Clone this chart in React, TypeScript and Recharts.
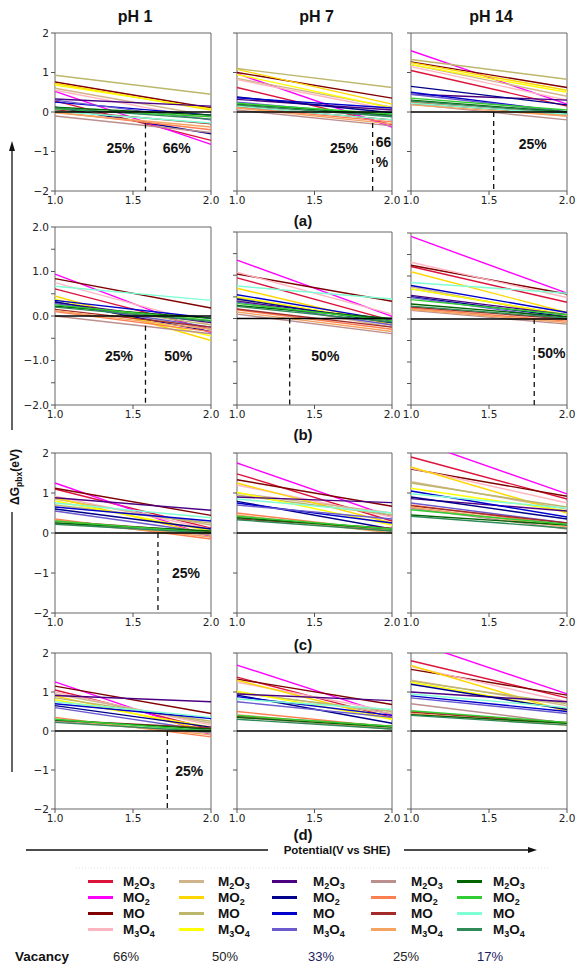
import React from "react";
import {
  LineChart,
  Line,
  XAxis,
  YAxis,
  ReferenceLine,
  ReferenceArea,
  ReferenceDot,
} from "recharts";

const FONT = '"Liberation Sans", Arial, sans-serif';
const TICK_FONT = '"DejaVu Sans", sans-serif';

const X_VALUES = [1.0, 2.0];
const X_TICKS = [1.0, 1.5, 2.0];
const Y_TICKS = [-2, -1, 0, 1, 2];
const Y_TICKS_FINE = [-2, -1.5, -1, -0.5, 0, 0.5, 1, 1.5, 2];
const PH_LABELS = ["pH 1", "pH 7", "pH 14"];
const ROW_LABELS = ["(a)", "(b)", "(c)", "(d)"];
const VACANCIES = ["66%", "50%", "33%", "25%", "17%"];
const OXIDES = ["M2O3", "MO2", "MO", "M3O4"];

// one row per vacancy, one colour per oxide (M2O3, MO2, MO, M3O4)
const COLORS = [
  ["#dc143c", "#ff00ff", "#800000", "#ffb6c1"],
  ["#d2b48c", "#ffd700", "#bdb76b", "#ffff00"],
  ["#4b0082", "#00008b", "#0000cd", "#6a5acd"],
  ["#bc8f8f", "#ff7f50", "#a52a2a", "#f4a460"],
  ["#006400", "#32cd32", "#7fffd4", "#2e8b57"],
];

// ΔG at 1.0 V and 2.0 V, same order as the legend (vacancy, then oxide)
const a_pH1 = [
  [0.28, -0.72], [0.52, -0.82], [0.76, 0.1], [0.55, -0.2],
  [0.6, -0.1], [0.72, 0.05], [0.93, 0.45], [0.68, 0.08],
  [0.33, 0.15], [0.12, -0.55], [0.25, -0.08], [0.3, -0.2],
  [-0.1, -0.52], [0.0, -0.45], [0.05, -0.3], [-0.02, -0.38],
  [0.12, -0.08], [0.08, -0.12], [0.02, -0.28], [0.1, -0.18],
];
const a_pH7 = [
  [0.62, -0.32], [0.97, -0.38], [1.0, 0.35], [0.82, 0.05],
  [0.85, 0.12], [1.08, 0.2], [1.1, 0.62], [0.95, 0.1],
  [0.32, 0.05], [0.38, -0.02], [0.36, 0.1], [0.25, -0.1],
  [0.05, -0.35], [0.12, -0.25], [0.15, -0.2], [0.1, -0.3],
  [0.2, -0.08], [0.22, -0.05], [0.15, -0.2], [0.18, -0.12],
];
const a_pH14 = [
  [1.05, 0.15], [1.55, 0.2], [1.27, 0.62], [1.15, 0.3],
  [1.2, 0.4], [1.25, 0.55], [1.33, 0.83], [1.2, 0.5],
  [0.45, 0.3], [0.65, 0.18], [0.5, 0.0], [0.45, 0.0],
  [0.2, -0.2], [0.25, -0.1], [0.22, -0.05], [0.18, -0.1],
  [0.3, 0.0], [0.35, 0.05], [0.22, -0.05], [0.28, -0.02],
];
const b_pH1 = [
  [0.61, -0.3], [0.94, -0.38], [0.84, 0.18], [0.75, -0.2],
  [0.32, -0.3], [0.45, -0.55], [0.3, -0.2], [0.38, -0.45],
  [0.3, -0.15], [0.32, -0.35], [0.35, -0.05], [0.28, -0.25],
  [0.0, -0.4], [0.1, -0.35], [0.15, -0.25], [0.12, -0.3],
  [0.22, -0.05], [0.25, -0.1], [0.67, 0.35], [0.2, -0.12],
];
const b_pH7 = [
  [0.94, -0.05], [1.35, 0.05], [1.03, 0.4], [1.07, 0.1],
  [0.42, -0.2], [0.7, -0.15], [0.48, -0.1], [0.5, -0.1],
  [0.4, -0.05], [0.45, -0.1], [0.55, -0.05], [0.38, -0.15],
  [0.1, -0.35], [0.2, -0.25], [0.22, -0.2], [0.15, -0.3],
  [0.3, 0.0], [0.35, -0.05], [0.75, 0.45], [0.28, -0.08],
];
const b_pH14 = [
  [1.22, 0.39], [1.92, 0.6], [1.25, 0.58], [1.32, 0.5],
  [0.75, 0.05], [1.1, 0.15], [0.7, 0.1], [0.7, 0.1],
  [0.55, 0.1], [0.52, 0.05], [0.78, 0.15], [0.5, 0.0],
  [0.2, -0.12], [0.25, -0.05], [0.28, 0.0], [0.22, -0.08],
  [0.35, 0.05], [0.45, 0.1], [0.85, 0.6], [0.3, 0.02],
];
const c_pH1 = [
  [1.1, 0.12], [1.25, -0.1], [1.12, 0.44], [0.92, 0.1],
  [0.85, 0.2], [0.88, -0.05], [0.7, 0.25], [0.8, 0.05],
  [0.88, 0.57], [0.6, 0.1], [0.65, 0.3], [0.55, 0.0],
  [0.25, -0.05], [0.35, -0.15], [0.3, 0.02], [0.32, -0.1],
  [0.25, 0.05], [0.3, 0.0], [0.75, 0.38], [0.22, 0.0],
];
const c_pH7 = [
  [1.48, 0.3], [1.75, 0.4], [1.33, 0.67], [1.2, 0.4],
  [1.0, 0.5], [1.25, 0.25], [0.95, 0.45], [1.02, 0.2],
  [0.9, 0.76], [0.79, 0.1], [0.75, 0.25], [0.7, 0.35],
  [0.4, 0.05], [0.5, 0.05], [0.35, 0.12], [0.45, 0.0],
  [0.38, 0.1], [0.42, 0.1], [0.85, 0.5], [0.33, 0.05],
];
const c_pH14 = [
  [1.9, 0.85], [2.34, 0.98], [1.6, 0.92], [1.62, 0.75],
  [1.28, 0.6], [1.65, 0.5], [1.25, 0.65], [1.12, 0.55],
  [0.86, 0.55], [0.9, 0.35], [1.05, 0.4], [0.75, 0.25],
  [0.62, 0.1], [0.7, 0.2], [0.68, 0.25], [0.65, 0.15],
  [0.45, 0.2], [0.58, 0.22], [0.98, 0.62], [0.42, 0.12],
];
const d_pH1 = [
  [1.05, 0.05], [1.26, -0.1], [1.15, 0.45], [1.0, 0.15],
  [0.95, 0.2], [0.9, 0.0], [0.85, 0.25], [0.8, 0.1],
  [0.91, 0.75], [0.65, 0.1], [0.7, 0.32], [0.6, 0.0],
  [0.25, -0.05], [0.35, -0.15], [0.28, 0.08], [0.3, -0.1],
  [0.28, 0.05], [0.3, 0.0], [0.75, 0.35], [0.22, -0.02],
];
const d_pH7 = [
  [1.38, 0.35], [1.69, 0.4], [1.33, 0.68], [1.25, 0.5],
  [1.0, 0.45], [1.3, 0.3], [0.98, 0.5], [1.02, 0.3],
  [0.95, 0.78], [0.92, 0.2], [0.88, 0.4], [0.75, 0.35],
  [0.35, 0.05], [0.5, 0.1], [0.38, 0.12], [0.42, 0.05],
  [0.35, 0.1], [0.4, 0.12], [0.82, 0.55], [0.3, 0.05],
];
const d_pH14 = [
  [1.8, 0.85], [2.3, 0.95], [1.58, 0.92], [1.65, 0.75],
  [1.3, 0.65], [1.68, 0.5], [1.28, 0.7], [1.25, 0.55],
  [1.0, 0.75], [1.2, 0.55], [0.9, 0.5], [0.85, 0.45],
  [0.7, 0.2], [0.5, 0.2], [0.48, 0.22], [0.45, 0.15],
  [0.42, 0.2], [0.52, 0.22], [0.95, 0.6], [0.4, 0.15],
];

// dashed boundary (x, top y) and the vacancy labels beside it
const a_marks = [
  { x: 1.58, yTop: -0.29, texts: [{ t: "25%", x: 1.42, y: -0.9 }, { t: "66%", x: 1.78, y: -0.9 }] },
  { x: 1.875, yTop: -0.28, texts: [{ t: "25%", x: 1.69, y: -0.9 }, { t: "66", x: 1.945, y: -0.76 }, { t: "%", x: 1.935, y: -1.26 }] },
  { x: 1.53, yTop: 0, texts: [{ t: "25%", x: 1.78, y: -0.81 }] },
];
const b_marks = [
  { x: 1.58, yTop: -0.22, texts: [{ t: "25%", x: 1.41, y: -0.9 }, { t: "50%", x: 1.79, y: -0.9 }] },
  { x: 1.34, yTop: 0, texts: [{ t: "50%", x: 1.57, y: -0.86 }] },
  { x: 1.79, yTop: 0, texts: [{ t: "50%", x: 1.9, y: -0.78 }] },
];
const c_marks = [{ x: 1.66, yTop: 0, texts: [{ t: "25%", x: 1.84, y: -1.0 }] }, null, null];
const d_marks = [{ x: 1.72, yTop: 0, texts: [{ t: "25%", x: 1.86, y: -1.03 }] }, null, null];

const ROWS = [
  { data: [a_pH1, a_pH7, a_pH14], marks: a_marks, tops: [33, 33, 33], bottom: 191, fine: false, labelY: 220 },
  { data: [b_pH1, b_pH7, b_pH14], marks: b_marks, tops: [227, 232, 233], bottom: 405, fine: true, labelY: 434 },
  { data: [c_pH1, c_pH7, c_pH14], marks: c_marks, tops: [453, 453, 453], bottom: 613, fine: false, labelY: 644 },
  { data: [d_pH1, d_pH7, d_pH14], marks: d_marks, tops: [653, 653, 653], bottom: 809, fine: false, labelY: 834 },
];
const COLS = [
  [55, 211],
  [237, 392],
  [411, 567],
];

const YW = 40;
const MT = 8;
const MR = 14;
const XH = 22;

const minus = (s: string) => s.replace("-", "\u2212");

function Panel({ box, values, marks, fine, labelled }: any) {
  const [L, T, R, B] = box;
  const data = X_VALUES.map((x, i) => {
    const row: Record<string, number> = { x };
    values.forEach((v: number[], k: number) => (row[`s${k}`] = v[i]));
    return row;
  });
  const yFmt = (v: number) => {
    if (!labelled || !Number.isInteger(v)) return "";
    return minus(fine ? v.toFixed(1) : String(v));
  };
  const tickStyle = { fontSize: 10.5, fill: "#222", fontFamily: TICK_FONT };
  return (
    <div style={{ position: "absolute", left: L - YW, top: T - MT }}>
      <LineChart
        width={R - L + YW + MR}
        height={B - T + MT + XH}
        data={data}
        margin={{ top: MT, right: MR, left: 0, bottom: 0 }}
      >
        <XAxis
          type="number"
          dataKey="x"
          domain={[1, 2]}
          ticks={X_TICKS}
          interval={0}
          tickFormatter={(v: number) => v.toFixed(1)}
          height={XH}
          tickSize={4}
          tick={tickStyle}
          axisLine={false}
          tickLine={{ stroke: "#555" }}
        />
        <YAxis
          type="number"
          domain={[-2, 2]}
          ticks={fine ? Y_TICKS_FINE : Y_TICKS}
          interval={0}
          allowDataOverflow
          width={YW}
          tickSize={4}
          tick={tickStyle}
          tickFormatter={yFmt}
          axisLine={false}
          tickLine={{ stroke: "#555" }}
        />
        {values.map((_: number[], k: number) => (
          <Line
            key={k}
            type="linear"
            dataKey={`s${k}`}
            stroke={COLORS[Math.floor(k / 4)][k % 4]}
            strokeWidth={1.4}
            dot={false}
            isAnimationActive={false}
          />
        ))}
        <ReferenceLine y={0} stroke="#000" strokeWidth={1.7} />
        <ReferenceArea x1={1} x2={2} y1={-2} y2={2} fill="none" fillOpacity={0} stroke="#666" strokeWidth={1} />
        {marks && (
          <ReferenceLine
            segment={[
              { x: marks.x, y: marks.yTop },
              { x: marks.x, y: -2 },
            ]}
            stroke="#111"
            strokeWidth={1.3}
            strokeDasharray="5 4"
          />
        )}
        {marks &&
          marks.texts.map((t: any, i: number) => (
            <ReferenceDot
              key={i}
              x={t.x}
              y={t.y}
              r={1}
              fill="none"
              stroke="none"
              label={{
                value: t.t,
                position: "center",
                fill: "#111",
                fontSize: 14,
                fontWeight: 700,
                fontFamily: FONT,
              }}
            />
          ))}
      </LineChart>
    </div>
  );
}

function Formula({ text }: { text: string }) {
  return (
    <>
      {text.split("").map((ch, i) =>
        /\d/.test(ch) ? (
          <span key={i} style={{ fontSize: 9, position: "relative", top: 2.5 }}>
            {ch}
          </span>
        ) : (
          <span key={i}>{ch}</span>
        )
      )}
    </>
  );
}

const LEG_SWATCH_X = [88, 179, 272, 371, 457];
const LEG_TEXT_X = [123, 218, 313, 411, 493];
const LEG_ROW_Y = [881, 897, 913, 929];
const VAC_X = [126, 225, 321, 406, 490];

const abs = (x: number, y: number, extra: React.CSSProperties = {}): React.CSSProperties => ({
  position: "absolute",
  left: x,
  top: y,
  transform: "translate(-50%, -50%)",
  whiteSpace: "nowrap",
  lineHeight: 1,
  ...extra,
});

export default function App() {
  return (
    <div
      style={{
        position: "absolute",
        left: 0,
        top: 0,
        width: 584,
        height: 965,
        background: "#fff",
        fontFamily: FONT,
        color: "#111",
        overflow: "hidden",
      }}
    >
      {PH_LABELS.map((t, i) => (
        <div key={t} style={abs((COLS[i][0] + COLS[i][1]) / 2 + 2, 17, { fontSize: 16, fontWeight: 700 })}>
          {t}
        </div>
      ))}

      {ROWS.map((row, r) =>
        COLS.map((c, ci) => (
          <Panel
            key={`${r}-${ci}`}
            box={[c[0], row.tops[ci], c[1], row.bottom]}
            values={row.data[ci]}
            marks={row.marks[ci]}
            fine={row.fine}
            labelled={ci === 0}
          />
        ))
      )}

      {ROW_LABELS.map((t, r) => (
        <div key={t} style={abs(303, ROWS[r].labelY, { fontSize: 15, fontWeight: 700 })}>
          {t}
        </div>
      ))}

      <svg width={584} height={965} style={{ position: "absolute", left: 0, top: 0, pointerEvents: "none" }}>
        <line x1={12} y1={148} x2={12} y2={430} stroke="#111" strokeWidth={1.3} />
        <polygon points="12,141 9,151 15,151" fill="#111" />
        <line x1={12} y1={512} x2={12} y2={772} stroke="#111" strokeWidth={1.3} />
        <line x1={26} y1={850} x2={268} y2={850} stroke="#111" strokeWidth={1.3} />
        <line x1={404} y1={850} x2={530} y2={850} stroke="#111" strokeWidth={1.3} />
        <polygon points="537,850 528,847 528,853" fill="#111" />
        <line x1={76} y1={868} x2={549} y2={868} stroke="#e2e2e2" strokeWidth={1} strokeDasharray="1 2" />
      </svg>

      <div style={abs(15, 477, { transform: "translate(-50%, -50%) rotate(-90deg)", fontSize: 12, fontWeight: 700 })}>
        ΔG<span style={{ fontSize: 8.5, position: "relative", top: 3 }}>pbx</span>(eV)
      </div>
      <div style={abs(337, 851, { fontSize: 11.5, fontWeight: 700 })}>Potential(V vs SHE)</div>

      {VACANCIES.map((v, vi) =>
        OXIDES.map((ox, oi) => (
          <React.Fragment key={`${v}-${ox}`}>
            <div
              style={{
                position: "absolute",
                left: LEG_SWATCH_X[vi],
                top: LEG_ROW_Y[oi] - 1,
                width: 25,
                height: 2.5,
                background: COLORS[vi][oi],
              }}
            />
            <div
              style={{
                position: "absolute",
                left: LEG_TEXT_X[vi],
                top: LEG_ROW_Y[oi] + 1,
                transform: "translateY(-50%)",
                fontSize: 13.5,
                fontWeight: 700,
                lineHeight: 1,
                whiteSpace: "nowrap",
              }}
            >
              <Formula text={ox} />
            </div>
          </React.Fragment>
        ))
      )}

      <div style={abs(42, 957, { fontSize: 13.5, fontWeight: 700 })}>Vacancy</div>
      {VACANCIES.map((v, vi) => (
        <div key={v} style={abs(VAC_X[vi], 956, { fontSize: 13, color: vi === 2 || vi === 4 ? "#1b1b5e" : "#222" })}>
          {v}
        </div>
      ))}
    </div>
  );
}
